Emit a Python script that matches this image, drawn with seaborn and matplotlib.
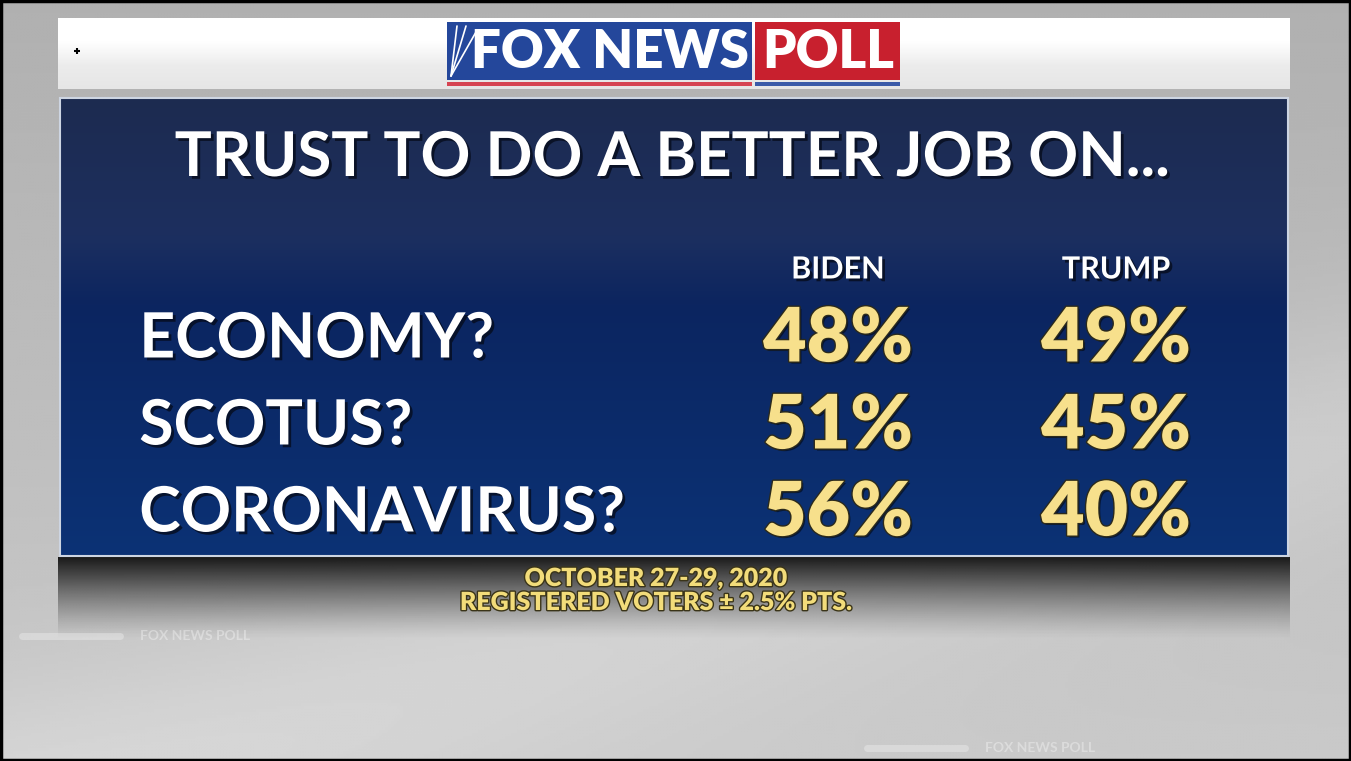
import numpy as np
import pandas as pd
import seaborn as sns
import matplotlib.pyplot as plt
import matplotlib.patheffects as pe
from matplotlib.colors import ListedColormap, LinearSegmentedColormap
from matplotlib.patches import Rectangle

# poll numbers
issues = ["ECONOMY?", "SCOTUS?", "CORONAVIRUS?"]
candidates = ["BIDEN", "TRUMP"]
biden = [48, 51, 56]
trump = [49, 45, 40]
title = "TRUST TO DO A BETTER JOB ON..."
footer = ["OCTOBER 27-29, 2020", "REGISTERED VOTERS \u00b1 2.5% PTS."]

sns.set_theme(style="white")
plt.rcParams['font.family'] = ['Lato', 'DejaVu Sans']

df = pd.DataFrame({candidates[0]: biden, candidates[1]: trump}, index=issues)
labels = df.map(lambda v: f"{v}%")

fig = plt.figure(figsize=(13.51, 7.61), dpi=100)
bg = fig.add_axes([0, 0, 1, 1])
bg.set_xlim(0, 1351)
bg.set_ylim(761, 0)
bg.axis('off')

# gray studio background
yy, xx = np.mgrid[0:761:3, 0:1351:3]
d = (yy - (761 - (xx - 150) * 0.28)) / 120.0
gray = 0.69 + 0.10 * (yy / 761) + 0.05 * np.exp(-d ** 2)
bg.imshow(gray, extent=(0, 1351, 761, 0), cmap='gray', vmin=0, vmax=1, aspect='auto', zorder=0)

# top white bar
top = LinearSegmentedColormap.from_list("top", ["#ffffff", "#ffffff", "#ececec", "#e6e6e6"])
bg.imshow(np.linspace(0, 1, 100).reshape(-1, 1), extent=(58, 1290, 89, 18), cmap=top, aspect='auto', zorder=1)
bg.plot([77], [51], marker='+', color='black', ms=5, mew=1.5, zorder=2)

# logo
bg.add_patch(Rectangle((447, 22), 305, 58, fc="#24479b", ec='none', zorder=2))
bg.add_patch(Rectangle((755, 22), 145, 58, fc="#c8202e", ec='none', zorder=2))
bg.add_patch(Rectangle((447, 82), 305, 4, fc="#d64452", ec='none', zorder=2))
bg.add_patch(Rectangle((755, 82), 145, 4, fc="#3a5aa8", ec='none', zorder=2))
for x2, y2 in [(457, 26), (466, 26), (476, 32)]:
    bg.plot([451, x2], [76, y2], color='white', lw=1.2, zorder=3)
bg.text(610, 52, "FOX NEWS", ha='center', va='center', color='white', fontsize=38,
        fontweight='heavy', zorder=3)
bg.text(828, 52, "POLL", ha='center', va='center', color='white', fontsize=38,
        fontweight='heavy', zorder=3)

# navy panel
navy = LinearSegmentedColormap.from_list(
    "navy", [(0, "#1d2b50"), (0.3, "#1c2f5f"), (0.45, "#0c2560"), (1, "#0b3275")])
bg.imshow(np.linspace(0, 1, 256).reshape(-1, 1), extent=(60, 1288, 556, 98), cmap=navy,
          aspect='auto', zorder=1)
bg.add_patch(Rectangle((60, 98), 1228, 458, fill=False, ec="#cdd5e2", lw=1.5, zorder=2))

# dark shadow below the panel
sh = np.zeros((100, 1, 4))
sh[:, 0, 3] = np.linspace(0.9, 0, 100) ** 1.3
bg.imshow(sh, extent=(58, 1290, 640, 557), aspect='auto', zorder=1)

shadow = [pe.withSimplePatchShadow(offset=(2, -2), shadow_rgbFace='#050a18', alpha=0.75)]
num_fx = [pe.SimplePatchShadow(offset=(1.5, -1.5), shadow_rgbFace='black', alpha=0.5),
          pe.Stroke(linewidth=2, foreground='#2b2a1c'), pe.Normal()]
foot_fx = [pe.Stroke(linewidth=2, foreground='#3a3418'), pe.Normal()]

bg.text(672, 158, title, ha='center', va='center', color='white', fontsize=44.5,
        fontweight='bold', path_effects=shadow, zorder=3)

for i, line in enumerate(footer):
    bg.text(656, 579 + 24 * i, line, ha='center', va='center', color='#f2dc7a', fontsize=18,
            fontweight='heavy', path_effects=foot_fx, zorder=3)

# faint decoration
for x, y in [(140, 636), (985, 748)]:
    bg.text(x, y, "FOX NEWS POLL", color='white', alpha=0.35, fontsize=10, fontweight='bold',
            va='center', zorder=2)
    bg.plot([x - 118, x - 20], [y, y], color='white', alpha=0.3, lw=5, zorder=2)

# value table drawn as an annotated heatmap
hm = fig.add_axes([699 / 1351, (761 - 557) / 761, 556 / 1351, 261 / 761])
sns.heatmap(df, ax=hm, annot=labels, fmt="", cbar=False,
            cmap=ListedColormap([(0, 0, 0, 0)]),
            annot_kws=dict(color="#f7e08c", fontsize=54, fontweight='heavy', path_effects=num_fx))
hm.patch.set_alpha(0)
hm.xaxis.tick_top()
hm.tick_params(length=0)
hm.tick_params(axis='x', pad=9, labelsize=22, labelcolor='white')
hm.tick_params(axis='y', pad=403, labelsize=45, labelcolor='white')
plt.setp(hm.get_xticklabels(), fontweight='bold', path_effects=shadow)
plt.setp(hm.get_yticklabels(), rotation=0, ha='left', fontweight='bold', path_effects=shadow)
hm.set_xlabel("")
hm.set_ylabel("")

bg.add_patch(Rectangle((1, 1), 1349, 759, fill=False, ec='black', lw=2.5, zorder=5))

fig.savefig("out.png", dpi=100)
